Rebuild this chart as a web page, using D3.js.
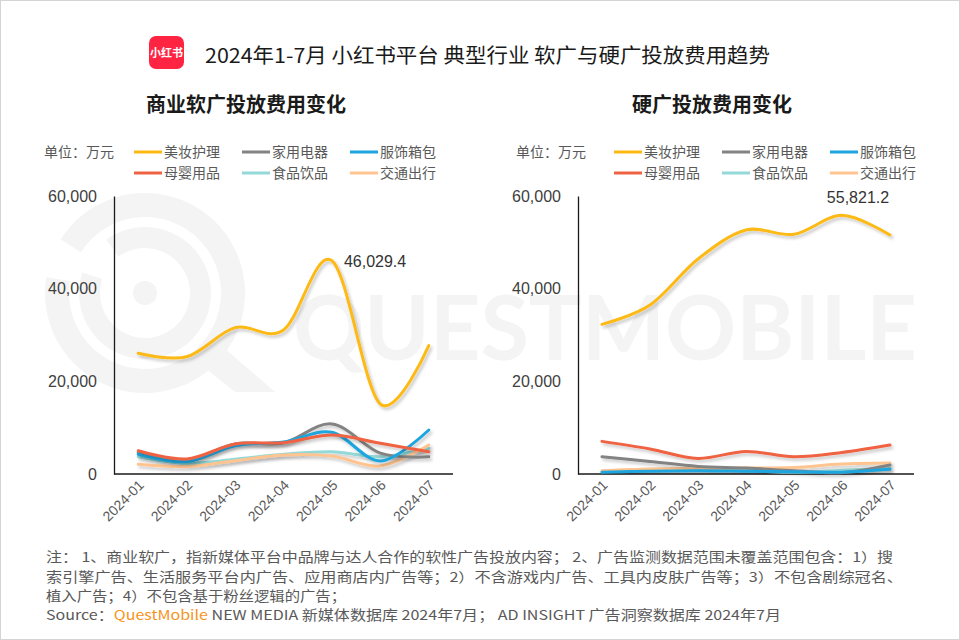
<!DOCTYPE html>
<html><head><meta charset="utf-8">
<script src="https://cdn.jsdelivr.net/npm/d3@7"></script>
<style>body{margin:0;background:#fff} svg{display:block}</style>
</head><body><svg id="c" width="960" height="640"></svg>
<script>
// ---------- data ----------
const months = ["2024-01","2024-02","2024-03","2024-04","2024-05","2024-06","2024-07"];
const seriesNames = ["美妆护理","家用电器","服饰箱包","母婴用品","食品饮品","交通出行"];
const seriesColors = ["#FDB913","#838383","#1EA5DE","#EF6243","#94D9D8","#FFC48F"];
const yTicks = [0, 20000, 40000, 60000];

// 商业软广 (soft ads)
const softBeauty    = [26050, 25300, 31580, 31080, 46029.4, 15100, 27700];
const softAppliance = [4600, 3000, 6500, 6700, 10800, 4500, 3700];
const softApparel   = [4250, 2660, 6110, 6900, 9000, 2800, 9500];
const softBaby      = [5030, 3240, 6470, 6760, 8420, 6620, 4820];
const softFood      = [3740, 2300, 3170, 4250, 4820, 3740, 5540];
const softTravel    = [2090, 1580, 2880, 4100, 3880, 1730, 6260];

// 硬广 (hard ads)
const hardBeauty    = [32300, 36470, 46400, 52660, 51730, 55821.2, 51580];
const hardAppliance = [3730, 2720, 1640, 1300, 710, 300, 1940];
const hardApparel   = [400, 600, 700, 600, 500, 400, 1000];
const hardBaby      = [7040, 5400, 3370, 4880, 3730, 4660, 6260];
const hardFood      = [600, 900, 900, 800, 300, 800, 1200];
const hardTravel    = [710, 1080, 1200, 1300, 1420, 2160, 2370];

const softLabel = {index: 4, text: "46,029.4"};
const hardLabel = {index: 5, text: "55,821.2"};

// ---------- drawing ----------
const svg = d3.select("#c");
const CJK = "'Noto Sans CJK SC','Noto Sans',sans-serif";
const NUM = "'Liberation Sans',Arial,sans-serif";

svg.append("rect").attr("x",0.5).attr("y",0.5).attr("width",959).attr("height",639)
  .attr("fill","#fff").attr("stroke","#d4d4d4");

const defs = svg.append("defs");
const f = defs.append("filter").attr("id","sh").attr("x","-10%").attr("y","-20%").attr("width","120%").attr("height","160%");
f.append("feDropShadow").attr("dx",2).attr("dy",2.5).attr("stdDeviation",1.6)
  .attr("flood-color","#000").attr("flood-opacity",0.22);

// watermark
const wm = svg.append("g").attr("fill","none").attr("stroke","#f4f4f4");
wm.append("circle").attr("cx",145).attr("cy",293).attr("r",12).attr("fill","#f4f4f4").attr("stroke","none");
const arc = d3.arc();
wm.append("path").attr("transform","translate(145,293)")
  .attr("d", arc({innerRadius:76, outerRadius:100, startAngle:-Math.PI*0.32, endAngle:Math.PI*1.55}))
  .attr("fill","#f4f4f4").attr("stroke","none");
wm.append("path").attr("transform","translate(145,293)")
  .attr("d", arc({innerRadius:45, outerRadius:66, startAngle:-Math.PI*0.2, endAngle:Math.PI*1.6}))
  .attr("fill","#f4f4f4").attr("stroke","none");
wm.append("path").attr("d","M195,360 L235,392 L275,392 L215,340 Z").attr("fill","#f4f4f4").attr("stroke","none");
svg.append("text").attr("x",293).attr("y",360).attr("font-family","Lato,'Noto Sans',sans-serif")
  .attr("font-weight",700).attr("font-size",90).attr("fill","#f4f4f4")
  .attr("textLength",624).attr("lengthAdjust","spacingAndGlyphs").text("QUESTMOBILE");

// title + logo
svg.append("rect").attr("x",149).attr("y",36).attr("width",35).attr("height",33).attr("rx",7)
  .attr("fill","#FF2442");
svg.append("text").attr("x",166.5).attr("y",57).attr("text-anchor","middle")
  .attr("font-family",CJK).attr("font-weight",700).attr("font-size",11).attr("fill","#fff").text("小红书");
svg.append("text").attr("x",205).attr("y",63).attr("font-family",CJK).attr("font-size",20)
  .attr("fill","#1a1a1a").attr("textLength",565).attr("lengthAdjust","spacingAndGlyphs")
  .text("2024年1-7月 小红书平台 典型行业 软广与硬广投放费用趋势");

function drawChart(cfg){
  const g = svg.append("g");
  g.append("text").attr("x",cfg.titleX).attr("y",112).attr("text-anchor","middle")
    .attr("font-family",CJK).attr("font-weight",700).attr("font-size",20).attr("fill","#1a1a1a").text(cfg.title);

  // legend
  g.append("text").attr("x",cfg.unitX).attr("y",157).attr("font-family",CJK).attr("font-size",14)
    .attr("fill","#595959").text("单位：万元");
  seriesNames.forEach((n,i)=>{
    const col = i%3, row = Math.floor(i/3);
    const lx = cfg.legendX + col*108, ly = 152 + row*21;
    g.append("line").attr("x1",lx).attr("x2",lx+28).attr("y1",ly).attr("y2",ly)
      .attr("stroke",seriesColors[i]).attr("stroke-width",3);
    g.append("text").attr("x",lx+30).attr("y",ly+5).attr("font-family",CJK).attr("font-size",14)
      .attr("fill","#595959").text(n);
  });

  const x = d3.scalePoint().domain(months).range(cfg.xRange).padding(0.5);
  const y = d3.scaleLinear().domain([0,60000]).range([474,196]);

  const ya = g.append("g").attr("transform",`translate(${cfg.xRange[0]},0)`)
    .call(d3.axisLeft(y).tickValues(yTicks).tickFormat(d3.format(",")).tickSize(0).tickSizeOuter(0).tickPadding(17));
  ya.select(".domain").attr("stroke","#1a1a1a").attr("stroke-width",1.3);
  ya.selectAll("text").attr("font-family",NUM).attr("font-size",16).attr("fill","#404040");

  const xa = g.append("g").attr("transform","translate(0,474)")
    .call(d3.axisBottom(x).tickSize(0).tickSizeOuter(0).tickPadding(0));
  xa.select(".domain").attr("stroke","#1a1a1a").attr("stroke-width",1.3)
    .attr("d",`M${cfg.xRange[0]},0H${cfg.xRange[1]}`);
  xa.selectAll("text").attr("font-family",NUM).attr("font-size",14).attr("fill","#595959")
    .attr("text-anchor","end").attr("dy",0).attr("transform","translate(6,12) rotate(-45)");

  const line = d3.line().x((d,i)=>x(months[i])).y(d=>y(d)).curve(d3.curveCardinal.tension(0));
  const order = [4,5,1,2,3,0];
  order.forEach(i=>{
    g.append("path").attr("d",line(cfg.data[i])).attr("fill","none")
      .attr("stroke",seriesColors[i]).attr("stroke-width",3).attr("stroke-linecap","round")
      .attr("filter","url(#sh)");
  });

  const L = cfg.label;
  g.append("text").attr("x",x(months[L.index])+cfg.labelDx).attr("y",y(cfg.data[0][L.index])+cfg.labelDy)
    .attr("text-anchor",cfg.labelAnchor).attr("font-family",NUM).attr("font-size",16).attr("fill","#333")
    .text(L.text);
}

drawChart({
  title:"商业软广投放费用变化", titleX:246, unitX:44, legendX:134,
  xRange:[114,453],
  data:[softBeauty,softAppliance,softApparel,softBaby,softFood,softTravel],
  label:softLabel, labelDx:12, labelDy:6, labelAnchor:"start"
});
drawChart({
  title:"硬广投放费用变化", titleX:712, unitX:516, legendX:614,
  xRange:[578,914],
  data:[hardBeauty,hardAppliance,hardApparel,hardBaby,hardFood,hardTravel],
  label:hardLabel, labelDx:16, labelDy:-12, labelAnchor:"middle"
});

// footnote
const notes = [
  {t:"注： 1、商业软广，指新媒体平台中品牌与达人合作的软性广告投放内容； 2、广告监测数据范围未覆盖范围包含：1）搜", y:562, w:847},
  {t:"索引擎广告、生活服务平台内广告、应用商店内广告等；2）不含游戏内广告、工具内皮肤广告等；3）不包含剧综冠名、", y:582, w:857},
  {t:"植入广告；4）不包含基于粉丝逻辑的广告；", y:601, w:300}
];
notes.forEach(n=>{
  svg.append("text").attr("x",46).attr("y",n.y).attr("font-family",CJK).attr("font-size",13.5)
    .attr("fill","#595959").attr("textLength",n.w).attr("lengthAdjust","spacingAndGlyphs").text(n.t);
});
const src = svg.append("text").attr("x",46).attr("y",620).attr("font-family",CJK).attr("font-size",13.5)
  .attr("fill","#595959").attr("textLength",735).attr("lengthAdjust","spacingAndGlyphs");
src.append("tspan").text("Source：");
src.append("tspan").attr("fill","#F7941D").text("QuestMobile");
src.append("tspan").text(" NEW MEDIA 新媒体数据库 2024年7月； AD INSIGHT 广告洞察数据库 2024年7月");
</script></body></html>
